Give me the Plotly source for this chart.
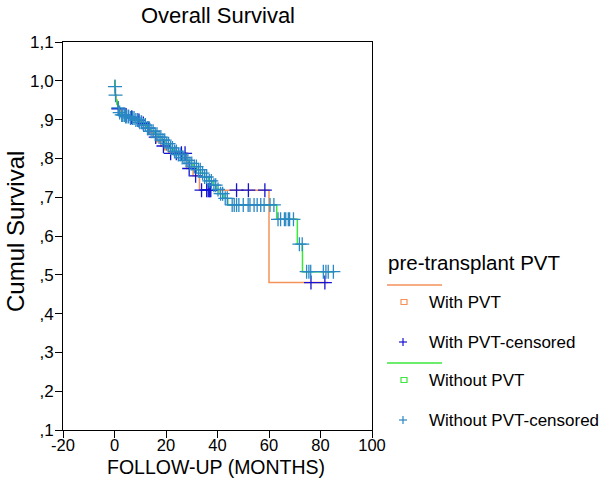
import plotly.graph_objects as go

# ---- data ----
# Without PVT survival curve: event times and survival after each step
without_t = [0, 0.1, 0.3, 0.5, 0.9, 1.3, 1.8, 2.5, 4, 6, 8, 9.5, 11, 12.5, 14, 15.5, 17, 18.5,
             20, 21.5, 23, 24.5, 26, 27.5, 29, 30.5, 32, 33.5, 35, 36.5, 38, 39.5, 41, 42.5,
             44, 63, 71, 73, 85.5]
without_s = [1.0, 0.985, 0.963, 0.95, 0.94, 0.93, 0.918, 0.912, 0.908, 0.904, 0.899, 0.893,
             0.886, 0.878, 0.870, 0.862, 0.855, 0.847, 0.838, 0.827, 0.818, 0.810, 0.802,
             0.795, 0.787, 0.779, 0.771, 0.762, 0.752, 0.742, 0.731, 0.720, 0.709, 0.697,
             0.680, 0.643, 0.579, 0.508, 0.508]

# With PVT survival curve
with_t = [0, 0.1, 0.3, 0.6, 1.0, 1.5, 2.3, 5, 8, 10, 12, 13.5, 15, 16.5, 18, 19.5, 21, 28,
          30.5, 33, 60, 83]
with_s = [1.0, 0.985, 0.963, 0.95, 0.94, 0.928, 0.912, 0.906, 0.898, 0.89, 0.878, 0.866,
          0.855, 0.843, 0.832, 0.822, 0.813, 0.774, 0.755, 0.718, 0.48, 0.48]

# censoring times
without_cens = [0.2, 0.4, 1.5, 2.0, 2.8, 3.2, 3.8, 4.3, 4.8, 5.5, 6.2, 7.0, 7.6, 8.3, 9.0,
                9.8, 10.5, 11.3, 12.0, 12.8, 13.5, 14.2, 15.0, 15.8, 16.5, 17.3, 18.0, 18.8,
                19.5, 20.3, 21.0, 21.8, 22.5, 23.3, 24.0, 24.8, 25.5, 26.3, 27.0, 27.8, 28.5,
                29.3, 30.0, 31.0, 31.8, 32.6, 33.3, 34.2, 35.0, 35.8, 36.8, 37.6, 38.6, 39.3,
                40.2, 41.2, 42.0, 43.0, 43.8, 45.7, 46.5, 47.4, 48.3, 50.0, 51.9, 52.6, 54.2,
                55.4, 56.8, 58.1, 60.4, 61.9, 63.5, 64.5, 66.0, 66.5, 67.5, 68.0, 69.5, 71.8,
                72.9, 74.6, 75.5, 76.2, 81.1, 82.1, 83.0, 85.0]
with_cens = [1.5, 4.5, 6.7, 9.5, 11.2, 13, 16, 19, 21.8, 24, 26, 27.4, 29, 31.5, 33.8, 35.8,
             36.4, 36.8, 37.1, 37.4, 47.4, 52, 58.4, 76.3, 81.7]

y_ticks = [0.1, 0.2, 0.3, 0.4, 0.5, 0.6, 0.7, 0.8, 0.9, 1.0, 1.1]
y_labels = [",1", ",2", ",3", ",4", ",5", ",6", ",7", ",8", ",9", "1,0", "1,1"]
x_ticks = [-20, 0, 20, 40, 60, 80, 100]
x_labels = ["-20", "0", "20", "40", "60", "80", "100"]


def surv_at(times, surv, t):
    val = surv[0]
    for ti, si in zip(times, surv):
        if ti <= t:
            val = si
    return val


C_WITH = "#F5925A"
C_WITHOUT = "#3BE83B"
C_WITH_C = "#1414D2"
C_WITHOUT_C = "#2A88C4"
FONT = "Liberation Sans, Arial, sans-serif"

fig = go.Figure()
fig.add_trace(go.Scatter(x=with_t, y=with_s, mode="lines", line=dict(color=C_WITH, width=1.5, shape="hv"),
                         name="With PVT", showlegend=False))
fig.add_trace(go.Scatter(x=without_t, y=without_s, mode="lines",
                         line=dict(color=C_WITHOUT, width=1.5, shape="hv"),
                         name="Without PVT", showlegend=False))
fig.add_trace(go.Scatter(x=with_cens, y=[surv_at(with_t, with_s, t) for t in with_cens],
                         mode="markers", name="With PVT-censored", showlegend=False,
                         marker=dict(symbol="cross-thin", size=10, line=dict(color=C_WITH_C, width=1.3))))
fig.add_trace(go.Scatter(x=without_cens, y=[surv_at(without_t, without_s, t) for t in without_cens],
                         mode="markers", name="Without PVT-censored", showlegend=False,
                         marker=dict(symbol="cross-thin", size=10, line=dict(color=C_WITHOUT_C, width=1.3))))

W, H = 600, 484
# plot frame in window pixels
L, R, T, B = 63, 372, 42, 430


def px(xp):
    return (xp - L) / (R - L)


def py(yp):
    return (B - yp) / (B - T)


shapes = []
ann = []
# legend
ann.append(dict(text="pre-transplant PVT", x=px(386), y=py(262), xref="paper", yref="paper",
                xanchor="left", yanchor="middle", showarrow=False, font=dict(size=20.5, color="black")))
entries = [("With PVT", C_WITH, "line", 285, 302), ("With PVT-censored", C_WITH_C, "cross", None, 342),
           ("Without PVT", C_WITHOUT, "line", 363, 380), ("Without PVT-censored", C_WITHOUT_C, "cross", None, 420)]
for label, col, kind, ly, ty in entries:
    if kind == "line":
        shapes.append(dict(type="line", xref="paper", yref="paper", x0=px(387), x1=px(442),
                           y0=py(ly), y1=py(ly), line=dict(color=col, width=1.5)))
        shapes.append(dict(type="rect", xref="paper", yref="paper", x0=px(401), x1=px(407),
                           y0=py(ty + 2.5), y1=py(ty - 2.5), line=dict(color=col, width=1.2)))
    else:
        shapes.append(dict(type="line", xref="paper", yref="paper", x0=px(399), x1=px(407),
                           y0=py(ty), y1=py(ty), line=dict(color=col, width=1.2)))
        shapes.append(dict(type="line", xref="paper", yref="paper", x0=px(403), x1=px(403),
                           y0=py(ty - 4), y1=py(ty + 4), line=dict(color=col, width=1.2)))
    ann.append(dict(text=label, x=px(427), y=py(ty), xref="paper", yref="paper", xanchor="left",
                    yanchor="middle", showarrow=False, font=dict(size=17, color="black")))

# axis titles
ann.append(dict(text="FOLLOW-UP (MONTHS)", x=px(216), y=py(467), xref="paper", yref="paper",
                xanchor="center", yanchor="middle", showarrow=False, font=dict(size=19.5, color="black")))
ann.append(dict(text="Cumul Survival", x=px(15), y=py(232), xref="paper", yref="paper", textangle=-90,
                xanchor="center", yanchor="middle", showarrow=False, font=dict(size=24, color="black")))

fig.update_layout(
    width=W, height=H,
    margin=dict(l=L, r=W - R, t=T, b=H - B),
    paper_bgcolor="white", plot_bgcolor="white",
    font=dict(family=FONT, color="black"),
    title=dict(text="Overall Survival", x=218 / W, y=1 - 15 / H, xanchor="center",
               yanchor="middle", font=dict(size=22, color="black")),
    shapes=shapes, annotations=ann,
    xaxis=dict(range=[-20, 100], tickvals=x_ticks, ticktext=x_labels, ticks="outside", ticklen=7,
               tickcolor="black", showgrid=False, zeroline=False, showline=True, mirror=True,
               linecolor="black", linewidth=1, tickfont=dict(size=16.5, color="black"),
               ticklabelstandoff=-7),
    yaxis=dict(range=[0.1, 1.1], tickvals=y_ticks, ticktext=y_labels, ticks="outside", ticklen=7,
               tickcolor="black", showgrid=False, zeroline=False, showline=True, mirror=True,
               linecolor="black", linewidth=1, tickfont=dict(size=17, color="black"),
               ticklabelstandoff=-2),
)

# remove the default page margin so the figure sits at the window's top-left corner
fig.write_html("out.html", config={"displayModeBar": False},
               post_script="document.body.style.margin='0';")
